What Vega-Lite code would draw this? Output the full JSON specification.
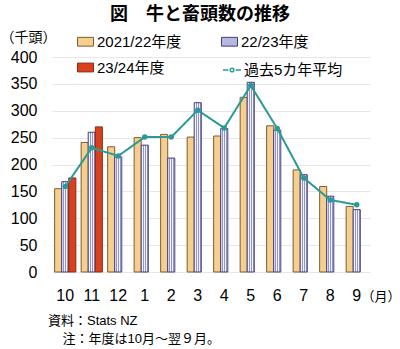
{
  "$schema": "https://vega.github.io/schema/vega-lite/v6.json",
  "padding": {"left": 0, "top": 6, "right": 0, "bottom": 0},
  "autosize": {"type": "pad"},
  "config": {
    "font": "Liberation Sans, Noto Sans CJK JP, sans-serif",
    "view": {"stroke": null},
    "concat": {"spacing": 0},
    "axisX": {
      "title": "（月）",
      "titleX": 348,
      "titleY": 24,
      "titleAlign": "right",
      "titleBaseline": "middle",
      "titleFontSize": 13,
      "titleFontWeight": "normal",
      "titleColor": "#000000",
      "labelAngle": 0,
      "labelFontSize": 16,
      "labelColor": "#000000",
      "labelPadding": 15,
      "domain": false,
      "ticks": false,
      "grid": false
    },
    "axisY": {
      "labelOverlap": false,
      "titleAngle": 0,
      "titleAlign": "left",
      "titleBaseline": "middle",
      "titleX": -52,
      "titleY": -20,
      "titleFontSize": 14,
      "titleFontWeight": "normal",
      "titleColor": "#000000",
      "labelFontSize": 16,
      "labelColor": "#000000",
      "labelPadding": 15,
      "domain": false,
      "ticks": false,
      "gridColor": "#E6E6E6",
      "gridWidth": 1
    }
  },
  "title": {
    "text": "図　牛と畜頭数の推移",
    "font": "Noto Sans CJK JP",
    "fontSize": 18,
    "fontWeight": "bold",
    "color": "#000000",
    "anchor": "middle",
    "offset": 6
  },
  "datasets": {
    "bars": [
      {"month": "10", "series": "2021/22年度", "value": 155},
      {"month": "10", "series": "22/23年度", "value": 168},
      {"month": "10", "series": "23/24年度", "value": 175},
      {"month": "11", "series": "2021/22年度", "value": 241},
      {"month": "11", "series": "22/23年度", "value": 260},
      {"month": "11", "series": "23/24年度", "value": 270},
      {"month": "12", "series": "2021/22年度", "value": 233},
      {"month": "12", "series": "22/23年度", "value": 214},
      {"month": "1", "series": "2021/22年度", "value": 250},
      {"month": "1", "series": "22/23年度", "value": 236},
      {"month": "2", "series": "2021/22年度", "value": 256},
      {"month": "2", "series": "22/23年度", "value": 212},
      {"month": "3", "series": "2021/22年度", "value": 251},
      {"month": "3", "series": "22/23年度", "value": 315},
      {"month": "4", "series": "2021/22年度", "value": 253},
      {"month": "4", "series": "22/23年度", "value": 267},
      {"month": "5", "series": "2021/22年度", "value": 325},
      {"month": "5", "series": "22/23年度", "value": 353},
      {"month": "6", "series": "2021/22年度", "value": 272},
      {"month": "6", "series": "22/23年度", "value": 264},
      {"month": "7", "series": "2021/22年度", "value": 190},
      {"month": "7", "series": "22/23年度", "value": 181},
      {"month": "8", "series": "2021/22年度", "value": 159},
      {"month": "8", "series": "22/23年度", "value": 141},
      {"month": "9", "series": "2021/22年度", "value": 122},
      {"month": "9", "series": "22/23年度", "value": 116}
    ],
    "avg": [
      {"month": "10", "name": "過去5カ年平均", "value": 159},
      {"month": "11", "name": "過去5カ年平均", "value": 231},
      {"month": "12", "name": "過去5カ年平均", "value": 216},
      {"month": "1", "name": "過去5カ年平均", "value": 251},
      {"month": "2", "name": "過去5カ年平均", "value": 251},
      {"month": "3", "name": "過去5カ年平均", "value": 301},
      {"month": "4", "name": "過去5カ年平均", "value": 268},
      {"month": "5", "name": "過去5カ年平均", "value": 347},
      {"month": "6", "name": "過去5カ年平均", "value": 267},
      {"month": "7", "name": "過去5カ年平均", "value": 175},
      {"month": "8", "name": "過去5カ年平均", "value": 134},
      {"month": "9", "name": "過去5カ年平均", "value": 125}
    ]
  },
  "vconcat": [
    {
      "width": 318,
      "height": 215,
      "title": {
        "text": ["資料：Stats NZ", "\u200c\u00a0\u00a0\u00a0\u00a0注：年度は10月～翌９月。"],
        "orient": "bottom",
        "anchor": "start",
        "frame": "group",
        "font": "Liberation Sans, Noto Sans CJK JP, sans-serif",
        "fontSize": 13,
        "fontWeight": "normal",
        "color": "#000000",
        "lineHeight": 18,
        "offset": 12,
        "dx": -4
      },
      "layer": [
        {
          "data": {"name": "bars"},
          "mark": {"type": "bar", "strokeWidth": 1},
          "encoding": {
            "x": {
              "field": "month",
              "type": "ordinal",
              "sort": ["10", "11", "12", "1", "2", "3", "4", "5", "6", "7", "8", "9"],
              "scale": {"paddingInner": 0.2, "paddingOuter": 0.1},
              "title": "（月）"
            },
            "xOffset": {
              "field": "series",
              "scale": {"domain": ["2021/22年度", "22/23年度", "23/24年度"], "paddingInner": 0}
            },
            "y": {
              "field": "value",
              "type": "quantitative",
              "scale": {"domain": [0, 400]},
              "title": "（千頭）",
              "axis": {"values": [0, 50, 100, 150, 200, 250, 300, 350, 400]}
            },
            "color": {
              "condition": {
                "test": "datum.series === '22/23年度'",
                "value": {
                  "gradient": "linear",
                  "x1": 0, "y1": 0, "x2": 1, "y2": 0,
                  "stops": [
                    {"offset": 0, "color": "#F4F4FC"},
                    {"offset": 0.22, "color": "#F4F4FC"},
                    {"offset": 0.22, "color": "#9494CC"},
                    {"offset": 0.36, "color": "#9494CC"},
                    {"offset": 0.36, "color": "#F4F4FC"},
                    {"offset": 0.5, "color": "#F4F4FC"},
                    {"offset": 0.5, "color": "#9494CC"},
                    {"offset": 0.64, "color": "#9494CC"},
                    {"offset": 0.64, "color": "#F4F4FC"},
                    {"offset": 0.78, "color": "#F4F4FC"},
                    {"offset": 0.78, "color": "#9494CC"},
                    {"offset": 0.9, "color": "#9494CC"},
                    {"offset": 0.9, "color": "#F4F4FC"},
                    {"offset": 1, "color": "#F4F4FC"}
                  ]
                }
              },
              "field": "series",
              "type": "nominal",
              "scale": {
                "domain": ["2021/22年度", "22/23年度", "23/24年度"],
                "range": ["#F6CE8E", "#B8B8DE", "#D9411E"]
              },
              "legend": {
                "title": null,
                "orient": "none",
                "direction": "horizontal",
                "legendX": 25,
                "legendY": -24,
                "columns": 2,
                "columnPadding": 37,
                "rowPadding": 9,
                "symbolType": "M-1,-0.55H1V0.55H-1Z",
                "symbolSize": 256,
                "symbolStrokeWidth": 1,
                "symbolOpacity": 1,
                "labelFontSize": 15,
                "labelColor": "#000000",
                "labelOffset": 3,
                "labelLimit": 200
              }
            },
            "stroke": {
              "field": "series",
              "type": "nominal",
              "scale": {
                "domain": ["2021/22年度", "22/23年度", "23/24年度"],
                "range": ["#7D5B36", "#3F3F7E", "#8A2A10"]
              },
              "legend": {
                "title": null,
                "orient": "none",
                "direction": "horizontal",
                "legendX": 25,
                "legendY": -24,
                "columns": 2,
                "columnPadding": 37,
                "rowPadding": 9,
                "symbolType": "M-1,-0.55H1V0.55H-1Z",
                "symbolSize": 256,
                "symbolStrokeWidth": 1,
                "symbolOpacity": 1,
                "labelFontSize": 15,
                "labelColor": "#000000",
                "labelOffset": 3,
                "labelLimit": 200
              }
            }
          }
        },
        {
          "data": {"name": "avg"},
          "mark": {
            "type": "line",
            "strokeWidth": 2,
            "point": {"filled": true, "size": 30, "color": "#2A9A98"}
          },
          "encoding": {
            "x": {
              "field": "month",
              "type": "ordinal",
              "sort": ["10", "11", "12", "1", "2", "3", "4", "5", "6", "7", "8", "9"],
              "title": "（月）"
            },
            "y": {
              "field": "value",
              "type": "quantitative",
              "title": "（千頭）",
              "axis": {"values": [0, 50, 100, 150, 200, 250, 300, 350, 400]}
            },
            "strokeDash": {
              "field": "name",
              "type": "nominal",
              "scale": {"domain": ["過去5カ年平均"], "range": [[1, 0]]},
              "legend": {
                "title": null,
                "orient": "none",
                "legendX": 170,
                "legendY": 3,
                "symbolType": "M-1,0H-0.4M0.4,0H1M-0.2,0A0.2,0.2 0 1,0 0.2,0A0.2,0.2 0 1,0 -0.2,0",
                "symbolSize": 324,
                "labelFontSize": 15,
                "labelColor": "#000000",
                "labelOffset": 2,
                "labelLimit": 200,
                "encode": {
                  "symbols": {
                    "update": {
                      "stroke": {"value": "#2A9A98"},
                      "fill": {"value": "#2A9A98"},
                      "strokeWidth": {"value": 2},
                      "strokeDash": {"value": [1, 0]},
                      "opacity": {"value": 1},
                      "strokeOpacity": {"value": 1}
                    }
                  }
                }
              }
            },
            "color": {"value": "#2A9A98"}
          }
        }
      ]
    }
  ]
}
